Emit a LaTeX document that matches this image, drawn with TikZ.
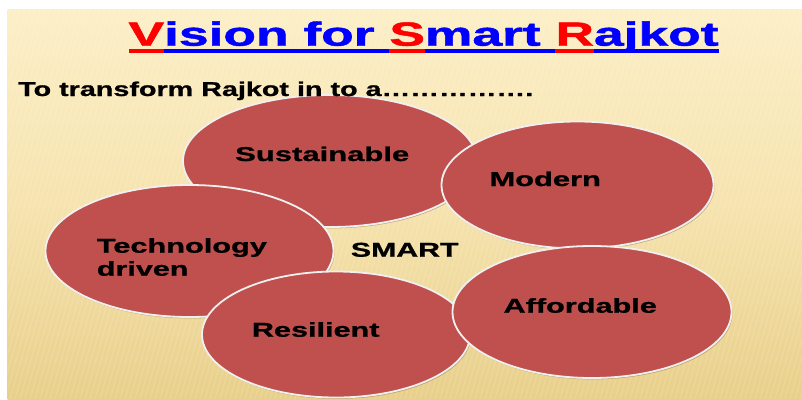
\documentclass[tikz,border=0pt]{standalone}
\usepackage{fontspec}
\setmainfont{Liberation Sans}
\newfontfamily\heavyfont{Liberation Sans Bold}[FakeBold=0.8]
\newfontfamily\titlefont{Liberation Sans Bold}[FakeBold=1.2]
\usetikzlibrary{shapes.geometric,shadows}
\definecolor{bubblefill}{HTML}{C0504D}
\definecolor{bgtop}{HTML}{FCEFC7}
\definecolor{bgmid}{HTML}{F6E3AE}
\definecolor{bgbot}{HTML}{E8CF8A}
\definecolor{tred}{HTML}{FF0000}
\definecolor{tblue}{HTML}{0000FF}
\newcommand\useg[2]{\setbox0\hbox{#2}\rlap{\color{#1}\rule[-0.207em]{\wd0}{0.1em}}\textcolor{#1}{\box0}}
\begin{document}
\begin{tikzpicture}[x=1pt,y=-1pt,
  bubble/.style={ellipse, draw=white!94!black, line width=1.8pt, fill=bubblefill, inner sep=0pt,
    drop shadow={shadow xshift=1pt, shadow yshift=-1.4pt, fill=brown!55!black, opacity=0.35}},
  lbl/.style={anchor=base west, inner sep=0pt, font=\heavyfont\fontsize{20}{23}\selectfont},
  ttl/.style={anchor=base west, inner sep=0pt, font=\titlefont\fontsize{33.5}{38}\selectfont}]
\useasboundingbox (0,0) rectangle (802,399);
\fill[white] (0,0) rectangle (802,399);
\shade[top color=bgtop, bottom color=bgbot, middle color=bgmid] (7.5,9) rectangle (802,399);
\begin{scope}
\clip (7.5,9) rectangle (802,399);
\foreach \i in {-30,...,175}{
  \draw[white, opacity=0.13, line width=1.3pt] (\i*5,399) -- (\i*5+110,9);
}
\end{scope}
% bubbles
\node[bubble, minimum width=294pt, minimum height=132pt] (sus) at (330,161) {};
\node[bubble, minimum width=272pt, minimum height=127pt] (mod) at (577.5,185) {};
\node[bubble, minimum width=288pt, minimum height=132pt] (tech) at (189.5,251) {};
\node[bubble, minimum width=268pt, minimum height=126pt] (res) at (336,334.5) {};
\node[bubble, minimum width=279pt, minimum height=132pt] (aff) at (592,312) {};
% labels
\node[lbl] (tsus) at (235,161) {\resizebox{174pt}{\height}{Sustainable}};
\node[lbl] (tmod) at (489.3,186) {\resizebox{111.4pt}{\height}{Modern}};
\node[lbl] (ttech) at (96.7,252.7) {\resizebox{170pt}{\height}{Technology}};
\node[lbl] (tdrv) at (96.7,275.7) {\resizebox{91.6pt}{\height}{driven}};
\node[lbl] (tsmart) at (350.7,256.7) {\resizebox{107.6pt}{\height}{SMART}};
\node[lbl] (tres) at (251.7,336.7) {\resizebox{127.6pt}{\height}{Resilient}};
\node[lbl] (taff) at (503.3,312.7) {\resizebox{153.4pt}{\height}{Affordable}};
% intro line
\node[lbl] (intro) at (18,96) {\resizebox{515pt}{\height}{To transform Rajkot in to a…………….}};
% title
\node[ttl] (title) at (128.3,45.7) {\resizebox{590pt}{\height}{\useg{tred}{V}\useg{tblue}{ision for }\useg{tred}{S}\useg{tblue}{mart }\useg{tred}{R}\useg{tblue}{ajkot}}};
\end{tikzpicture}
\end{document}
